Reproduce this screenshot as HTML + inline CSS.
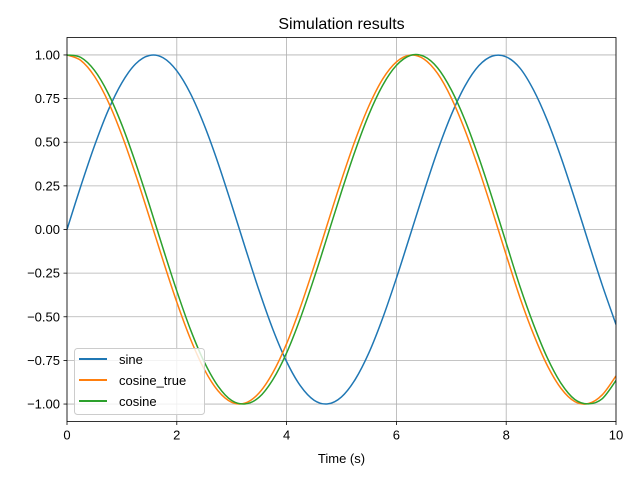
<!DOCTYPE html>
<html><head><meta charset="utf-8"><style>
body{margin:0;background:#fff}
svg text{font-family:"Liberation Sans","DejaVu Sans",sans-serif;fill:#000}
</style></head><body>
<svg id="chart" width="640" height="480" xmlns="http://www.w3.org/2000/svg">
<rect width="640" height="480" fill="#fff"/>
<g id="grid"></g><g id="series"></g><g id="axes"></g>
<text x="341.5" y="29" font-size="16" text-anchor="middle">Simulation results</text>
<text x="341.5" y="463" font-size="13" text-anchor="middle">Time (s)</text>
<g>
<rect x="74.5" y="348.5" width="130" height="66" rx="3" fill="#fff" fill-opacity="0.8" stroke="#ccc"/>
<line x1="79" y1="359" x2="107" y2="359" stroke="#1f77b4" stroke-width="2"/>
<text x="119" y="364" font-size="13">sine</text>
<line x1="79" y1="380" x2="107" y2="380" stroke="#ff7f0e" stroke-width="2"/>
<text x="119" y="385" font-size="13">cosine_true</text>
<line x1="79" y1="401" x2="107" y2="401" stroke="#2ca02c" stroke-width="2"/>
<text x="119" y="406" font-size="13">cosine</text>
</g>
</svg>
<script>
const times=[0,0.25,0.5,0.75,1,1.25,1.5,1.75,2,2.25,2.5,2.75,3,3.25,3.5,3.75,4,4.25,4.5,4.75,5,5.25,5.5,5.75,6,6.25,6.5,6.75,7,7.25,7.5,7.75,8,8.25,8.5,8.75,9,9.25,9.5,9.75,10];
const sine=[0,0.247,0.479,0.682,0.841,0.949,0.997,0.984,0.909,0.778,0.598,0.382,0.141,-0.108,-0.351,-0.572,-0.757,-0.895,-0.978,-0.999,-0.959,-0.859,-0.706,-0.508,-0.279,-0.033,0.215,0.451,0.657,0.823,0.938,0.994,0.989,0.925,0.798,0.624,0.412,0.174,-0.075,-0.319,-0.544];
const cosineTrue=[1,0.969,0.878,0.732,0.540,0.315,0.071,-0.178,-0.416,-0.628,-0.801,-0.924,-0.990,-0.994,-0.936,-0.820,-0.654,-0.446,-0.211,0.038,0.284,0.512,0.709,0.862,0.960,0.999,0.977,0.894,0.754,0.568,0.347,0.105,-0.146,-0.390,-0.602,-0.780,-0.911,-0.986,-0.997,-0.947,-0.839];
const cosine=[1,0.986,0.912,0.780,0.599,0.381,0.141,-0.109,-0.352,-0.574,-0.759,-0.897,-0.980,-0.999,-0.961,-0.860,-0.707,-0.509,-0.279,-0.032,0.217,0.452,0.660,0.826,0.940,0.997,0.992,0.926,0.800,0.626,0.413,0.175,-0.077,-0.326,-0.546,-0.736,-0.882,-0.974,-0.999,-0.969,-0.865];
const xTicks=[0,2,4,6,8,10];
const yTicks=[-1,-0.75,-0.5,-0.25,0,0.25,0.5,0.75,1];
const yTickLabels=["−1.00","−0.75","−0.50","−0.25","0.00","0.25","0.50","0.75","1.00"];
const L=67,R=616,T=37.5,B=421.5,xmin=0,xmax=10,ymin=-1.1,ymax=1.1;
const X=v=>L+(v-xmin)/(xmax-xmin)*(R-L);
const Y=v=>B-(v-ymin)/(ymax-ymin)*(B-T);
const NS="http://www.w3.org/2000/svg";
function mk(tag,attrs,parent){const e=document.createElementNS(NS,tag);for(const k in attrs)e.setAttribute(k,attrs[k]);parent.appendChild(e);return e;}
const grid=document.getElementById('grid'),axes=document.getElementById('axes'),ser=document.getElementById('series');
xTicks.forEach(t=>{
 const g=mk('line',{x1:X(t),x2:X(t),y1:T,y2:B,stroke:'#b0b0b0','stroke-width':0.8},grid);
 
 
 const tk=mk('line',{x1:X(t),x2:X(t),y1:B,y2:B+3.5,stroke:'#000','stroke-width':0.8},axes);
 
 
 const tx=mk('text',{x:X(t),y:B+18,'font-size':13,'text-anchor':'middle'},axes);tx.textContent=t;
 
 
});
yTicks.forEach((t,i)=>{
 const g=mk('line',{x1:L,x2:R,y1:Y(t),y2:Y(t),stroke:'#b0b0b0','stroke-width':0.8},grid);
 
 
 const tk=mk('line',{x1:L-3.5,x2:L,y1:Y(t),y2:Y(t),stroke:'#000','stroke-width':0.8},axes);
 
 
 const tx=mk('text',{x:L-7,y:Y(t)+4.5,'font-size':13,'text-anchor':'end'},axes);tx.textContent=yTickLabels[i];
 
 
});
const frame=mk('rect',{x:L,y:T,width:R-L,height:B-T,fill:'none',stroke:'#000','stroke-width':0.8},axes);


function pathFor(vals){
 const p=times.map((t,i)=>[X(t),Y(vals[i])]);
 let d='M'+p[0][0]+','+p[0][1];
 for(let i=0;i<p.length-1;i++){
  const p0=p[Math.max(0,i-1)],p1=p[i],p2=p[i+1],p3=p[Math.min(p.length-1,i+2)];
  const c1=[p1[0]+(p2[0]-p0[0])/6,p1[1]+(p2[1]-p0[1])/6];
  const c2=[p2[0]-(p3[0]-p1[0])/6,p2[1]-(p3[1]-p1[1])/6];
  d+=` C${c1[0]},${c1[1]} ${c2[0]},${c2[1]} ${p2[0]},${p2[1]}`;
 }
 return d;
}
mk('clipPath',{id:'clip'},ser).appendChild(document.createElementNS(NS,'rect'));
const cr=ser.querySelector('#clip rect');cr.setAttribute('x',L);cr.setAttribute('y',T);cr.setAttribute('width',R-L);cr.setAttribute('height',B-T);
const s1=mk('path',{d:pathFor(sine),fill:'none',stroke:'#1f77b4','stroke-width':1.5,'clip-path':'url(#clip)'},ser);


const s2=mk('path',{d:pathFor(cosineTrue),fill:'none',stroke:'#ff7f0e','stroke-width':1.5,'clip-path':'url(#clip)'},ser);


const s3=mk('path',{d:pathFor(cosine),fill:'none',stroke:'#2ca02c','stroke-width':1.5,'clip-path':'url(#clip)'},ser);


</script>
</body></html>
